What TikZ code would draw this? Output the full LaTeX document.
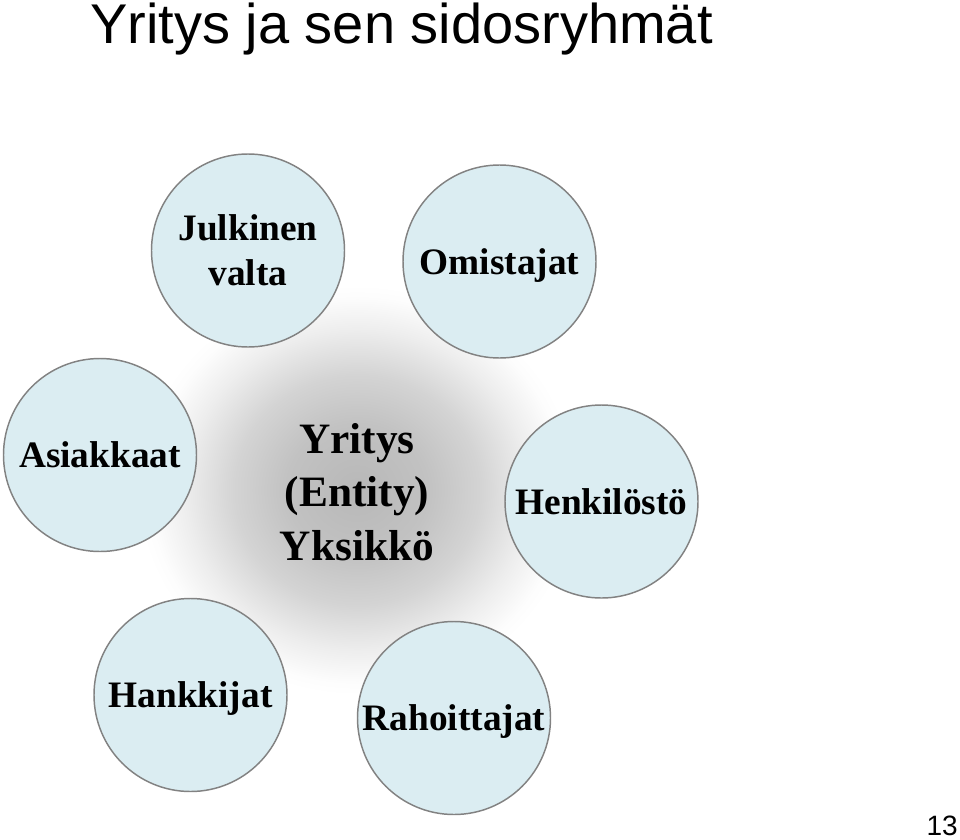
\documentclass[tikz,border=0pt]{standalone}
\usepackage{fontspec}
\setmainfont{Liberation Serif}
\newfontfamily\arialfont{Liberation Sans}
\definecolor{stakefill}{RGB}{219,237,242}
\definecolor{stakedraw}{RGB}{130,130,130}
\pgfdeclareradialshading{glow}{\pgfpoint{0bp}{0bp}}{%
  color(0bp)=(black!28); color(8bp)=(black!24); color(14bp)=(black!17);
  color(19.5bp)=(black!7); color(23.5bp)=(black!1); color(25bp)=(white);
  color(50bp)=(white)}
\tikzset{
  stake/.style={circle, fill=stakefill, draw=stakedraw, line width=1.1pt,
    minimum size=144.75pt, inner sep=0pt, align=center,
    font=\bfseries\fontsize{28}{33.75}\selectfont},
  oneline/.style={text height=19pt, text depth=0pt},
  centretext/.style={align=center, inner sep=0pt,
    font=\bfseries\fontsize{32.5}{40}\selectfont},
  titletext/.style={inner sep=0pt, font=\arialfont\fontsize{42}{50}\selectfont},
  pagenum/.style={inner sep=0pt, font=\arialfont\fontsize{21}{24}\selectfont}
}
\begin{document}
\begin{tikzpicture}[x=0.75pt, y=-0.75pt]
\useasboundingbox (0,0) rectangle (960,839);
\fill[white] (0,0) rectangle (960,839);
% soft glow behind the central text
\shade[shading=glow] (357,490) ellipse [x radius=165pt, y radius=154pt];
% stakeholder circles
\node[stake] (julk) at (248,250.5) {Julkinen\\valta};
\node[stake, oneline] (omis) at (499.5,261.5) {Omistajat};
\node[stake, oneline] (asia) at (100,455) {Asiakkaat};
\node[stake, oneline] (henk) at (601.5,501.5) {Henkilöstö};
\node[stake, oneline] (hank) at (190.5,695) {Hankkijat};
\node[stake, oneline] (raho) at (454,718) {Rahoittajat};
% central entity
\node[centretext] (yritys) at (357,492) {Yritys\\(Entity)\\Yksikkö};
% title and page number
\node[titletext, anchor=base west] (title) at (90,43) {Yritys ja sen sidosryhmät};
\node[pagenum, anchor=base east] (page) at (958,835) {13};
\end{tikzpicture}
\end{document}
